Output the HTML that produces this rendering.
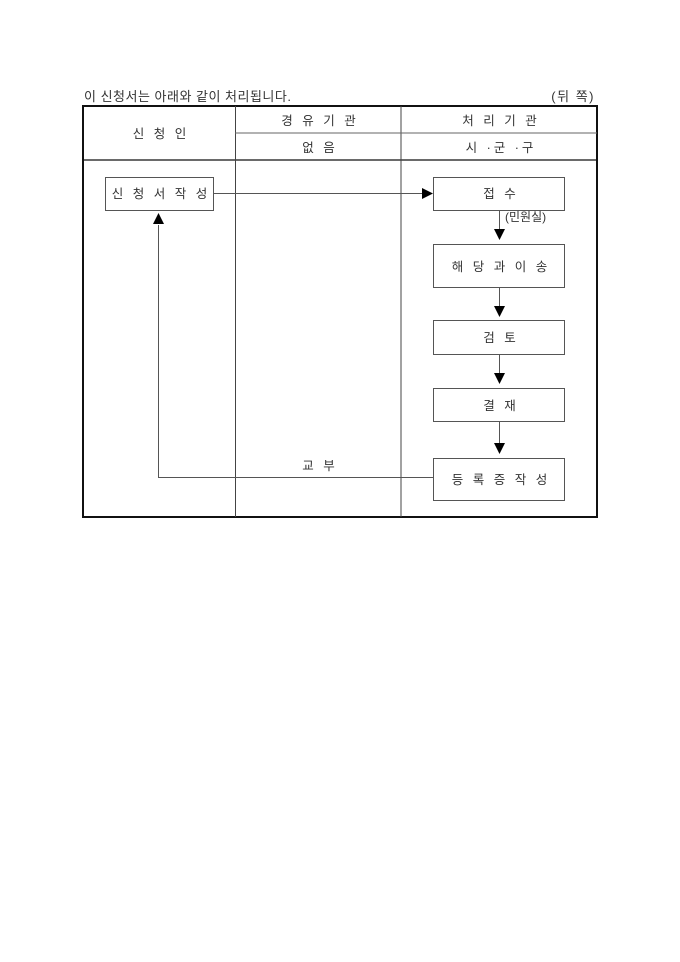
<!DOCTYPE html>
<html><head><meta charset="utf-8"><style>
html,body{margin:0;padding:0;background:#fff;width:680px;height:962px;overflow:hidden}
svg text{font-family:"Liberation Sans","Noto Sans CJK KR","NanumGothic",sans-serif;font-size:12.5px;fill:#333}
</style></head><body>
<svg width="680" height="962" viewBox="0 0 680 962" xmlns="http://www.w3.org/2000/svg">
<text x="84" y="101" style="font-size:13px" letter-spacing="0.5">이 신청서는 아래와 같이 처리됩니다.</text>
<text x="595" y="101" text-anchor="end" style="font-size:13px" letter-spacing="1.5">(뒤 쪽)</text>
<!-- table -->
<rect x="83" y="106" width="514" height="411" fill="none" stroke="#111" stroke-width="2"/>
<line x1="83" y1="160" x2="597" y2="160" stroke="#111" stroke-width="1.2"/>
<line x1="235.5" y1="106" x2="235.5" y2="517" stroke="#444" stroke-width="1"/>
<line x1="401" y1="106" x2="401" y2="517" stroke="#444" stroke-width="1"/>
<line x1="235" y1="133" x2="597" y2="133" stroke="#666" stroke-width="1"/>
<g text-anchor="middle" letter-spacing="3">
<text x="161" y="138">신 청 인</text>
<text x="320" y="125">경 유 기 관</text>
<text x="320" y="152">없 음</text>
<text x="501" y="125">처 리 기 관</text>
<text x="501" y="152">시 ·군 ·구</text>
</g>
<g fill="none" stroke="#555" stroke-width="1">
<rect x="105.5" y="177.5" width="108" height="33"/>
<rect x="433.5" y="177.5" width="131" height="33"/>
<rect x="433.5" y="244.5" width="131" height="43"/>
<rect x="433.5" y="320.5" width="131" height="34"/>
<rect x="433.5" y="388.5" width="131" height="33"/>
<rect x="433.5" y="458.5" width="131" height="42"/>
<polyline points="213,193.5 422,193.5"/>
<polyline points="499.5,211 499.5,229"/>
<polyline points="499.5,288 499.5,306"/>
<polyline points="499.5,355 499.5,373"/>
<polyline points="499.5,422 499.5,443"/>
<polyline points="433,477.5 158.5,477.5 158.5,225"/>
</g>
<g fill="#000">
<polygon points="422,188 433,193.5 422,199"/>
<polygon points="494,229 505,229 499.5,240"/>
<polygon points="494,306 505,306 499.5,317"/>
<polygon points="494,373 505,373 499.5,384"/>
<polygon points="494,443 505,443 499.5,454"/>
<polygon points="153,224 164,224 158.5,213"/>
</g>
<g text-anchor="middle" letter-spacing="3">
<text x="161" y="198">신 청 서 작 성</text>
<text x="501" y="198">접 수</text>
<text x="501" y="271">해 당 과 이 송</text>
<text x="501" y="342">검 토</text>
<text x="501" y="410">결 재</text>
<text x="501" y="484">등 록 증 작 성</text>
<text x="320" y="470">교 부</text>
</g>
<text x="505" y="221" style="font-size:12px">(민원실)</text>
</svg>
</body></html>
